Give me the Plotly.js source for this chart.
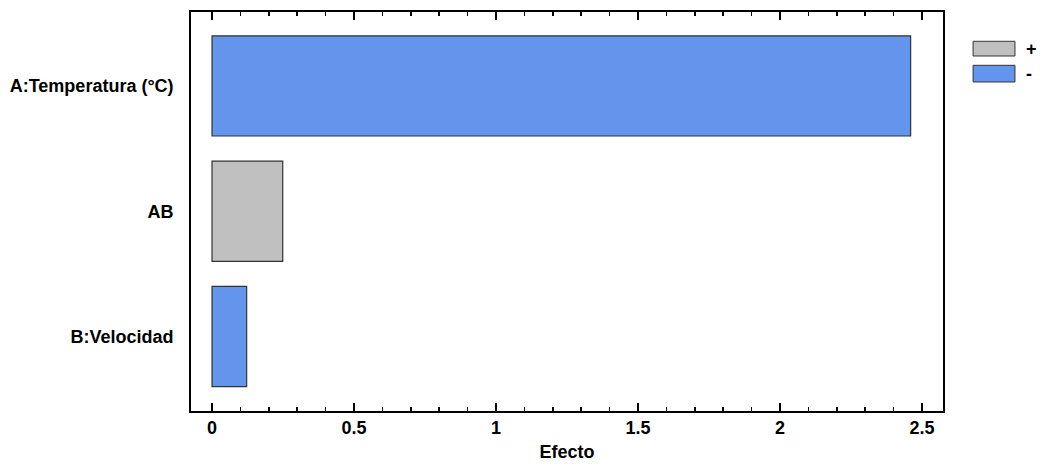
<!DOCTYPE html>
<html>
<head>
<meta charset="utf-8">
<script src="https://cdn.plot.ly/plotly-3.0.1.min.js"></script>
<style>html,body{margin:0;padding:0;background:#fff;}</style>
</head>
<body>
<div id="chart" style="width:1043px;height:468px;"></div>
<script>
// Data
const factors = ["B:Velocidad", "AB", "A:Temperatura (°C)"];
const effects = [0.122, 0.249, 2.46];
const signs = ["-", "+", "-"];
const xTicks = [0, 0.5, 1, 1.5, 2, 2.5];
const xTickLabels = ["0", "0.5", "1", "1.5", "2", "2.5"];

const posY = [], posX = [], negY = [], negX = [];
factors.forEach((f, i) => {
  if (signs[i] === "+") { posY.push(f); posX.push(effects[i]); }
  else { negY.push(f); negX.push(effects[i]); }
});

const FONT = "Liberation Sans, Arial, sans-serif";
const FS = 18;
const F = { family: FONT, size: FS, color: "#000", weight: "bold" };
const common = {
  type: "bar", orientation: "h", width: 0.8, showlegend: false, hoverinfo: "x+y"
};
const traces = [
  Object.assign({}, common, { name: "+", x: posX, y: posY,
    marker: { color: "#C0C0C0", line: { color: "#333333", width: 1.2 } } }),
  Object.assign({}, common, { name: "-", x: negX, y: negY,
    marker: { color: "#6495ED", line: { color: "#333333", width: 1.2 } } })
];

const layout = {
  width: 1043, height: 468,
  margin: { l: 191, r: 100, t: 12, b: 57, pad: 0 },
  paper_bgcolor: "#fff", plot_bgcolor: "#fff",
  barmode: "overlay",
  font: F,
  xaxis: {
    range: [-0.074, 2.574],
    tickvals: xTicks, ticktext: xTickLabels,
    ticks: "inside", ticklen: 8, tickwidth: 1.5, tickcolor: "#000",
    minor: { dtick: 0.1, tick0: 0, ticks: "inside", ticklen: 4, tickwidth: 1.5, tickcolor: "#000", showgrid: false },
    showgrid: false, zeroline: false,
    showline: true, linecolor: "#000", linewidth: 1.8, mirror: "allticks",
    tickfont: F,
    title: { text: "Efecto", font: F, standoff: 8 }
  },
  yaxis: {
    type: "category", categoryorder: "array", categoryarray: factors,
    range: [-0.595, 2.59],
    ticks: "", showgrid: false, zeroline: false,
    showline: true, linecolor: "#000", linewidth: 1.8, mirror: true,
    ticklabelstandoff: 12,
    tickfont: F
  },
  shapes: [
    { type: "rect", xref: "paper", yref: "paper", x0: 1.04, x1: 1.0957, y0: 0.8897, y1: 0.9266,
      fillcolor: "#C0C0C0", line: { color: "#333333", width: 1 } },
    { type: "rect", xref: "paper", yref: "paper", x0: 1.04, x1: 1.0957, y0: 0.8246, y1: 0.8664,
      fillcolor: "#6495ED", line: { color: "#333333", width: 1 } }
  ],
  annotations: [
    { xref: "paper", yref: "paper", x: 1.108, y: 0.9085, xanchor: "left", yanchor: "middle",
      text: "+", showarrow: false, font: F },
    { xref: "paper", yref: "paper", x: 1.108, y: 0.8454, xanchor: "left", yanchor: "middle",
      text: "-", showarrow: false, font: F }
  ]
};

Plotly.newPlot("chart", traces, layout, { displayModeBar: false, staticPlot: true });
</script>
</body>
</html>
